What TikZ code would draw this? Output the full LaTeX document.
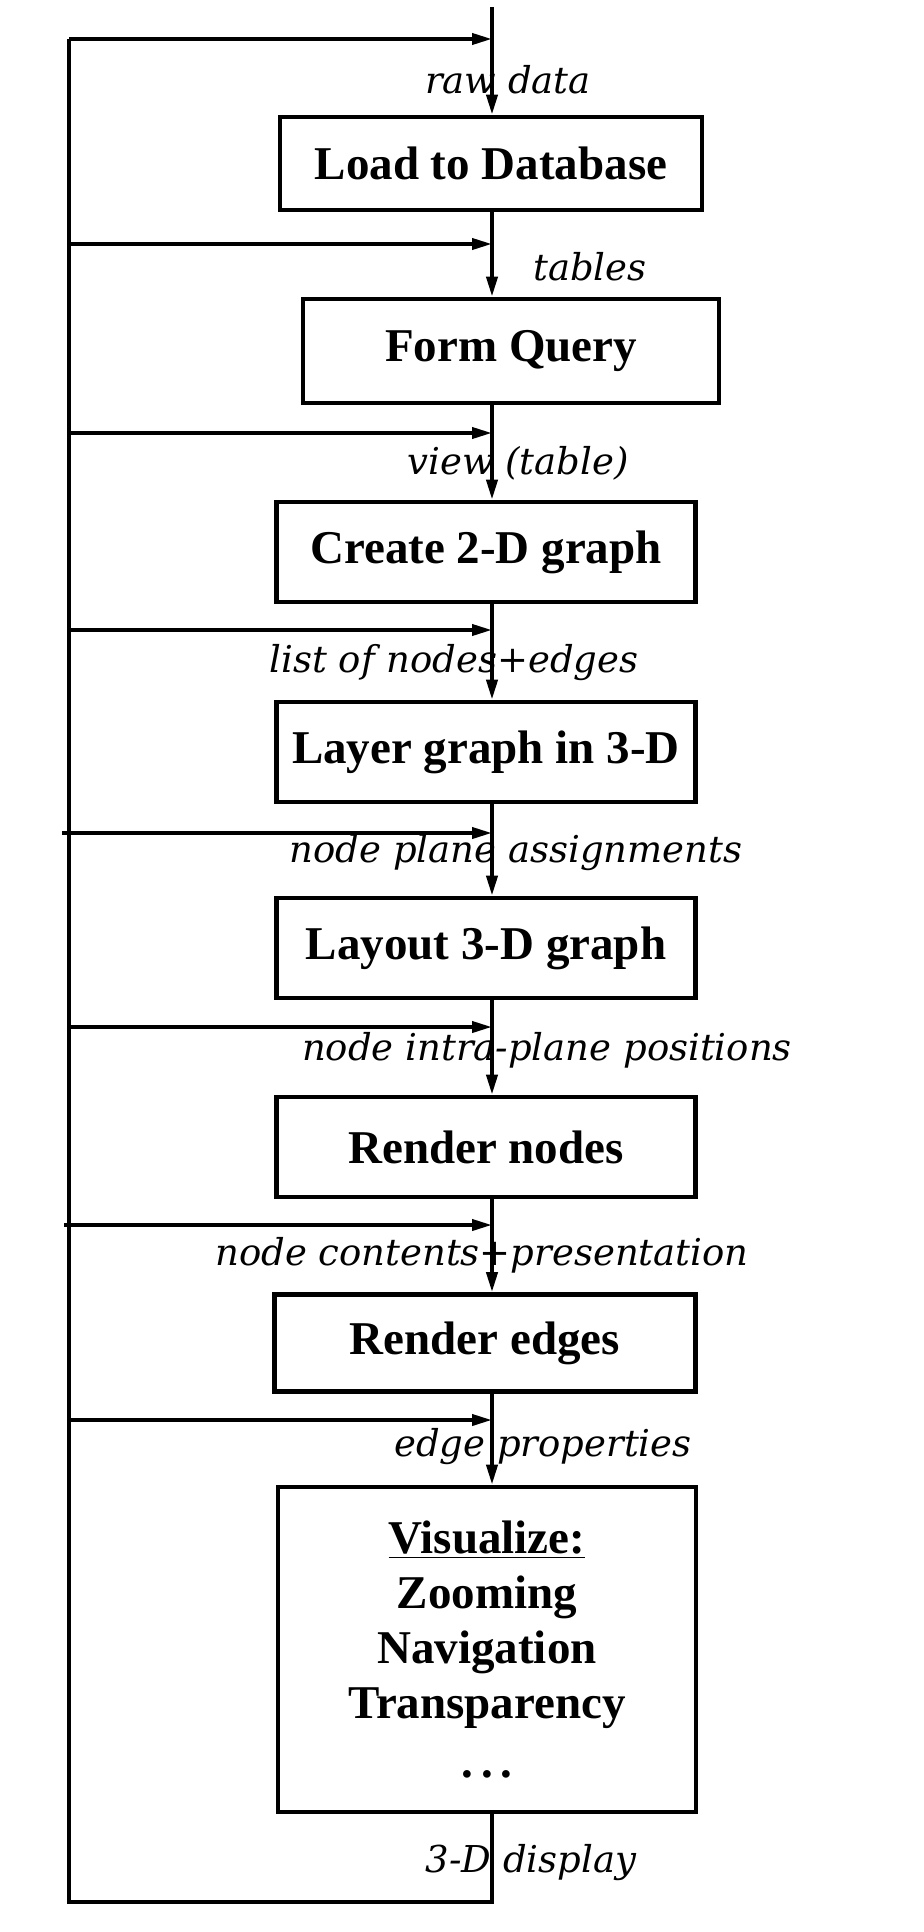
\documentclass[tikz,border=0pt]{standalone}
\usepackage{fontspec}
\setmainfont{Liberation Serif}
\newfontfamily\lblfont{DejaVu Serif}
\usetikzlibrary{arrows.meta}
\begin{document}
\begin{tikzpicture}[x=0.5pt,y=-0.5pt,
  box/.style={draw,line width=2.3pt,inner sep=0pt,align=center,
    font=\bfseries\fontsize{23.5}{27.5}\selectfont},
  line/.style={line width=1.9pt},
  flow/.style={line width=1.9pt,-{Triangle[length=10pt,width=5.5pt]}},
  lbl/.style={inner sep=0pt,font=\lblfont\itshape\fontsize{18.5}{21}\selectfont}]
\useasboundingbox (0,0) rectangle (924,1932);
% boxes
\node[box,minimum width=211pt,minimum height=46.5pt] (b1) at (491,163.5) {Load to Database};
\node[box,minimum width=208pt,minimum height=52pt] (b2) at (511,351) {Form Query};
\node[box,minimum width=209.5pt,minimum height=50pt] (b3) at (486,552) {Create 2-D graph};
\node[box,minimum width=209.5pt,minimum height=50pt] (b4) at (486,752) {Layer graph in 3-D};
\node[box,minimum width=209.5pt,minimum height=50pt] (b5) at (486,948) {Layout 3-D graph};
\node[box,minimum width=209.5pt,minimum height=50pt] (b6) at (486,1147) {Render nodes};
\node[box,minimum width=210.5pt,minimum height=48.5pt] (b7) at (485,1343) {Render edges};
\node[box,minimum width=209pt,minimum height=162.5pt] (b8) at (487,1649.5)
  {\underline{Visualize:}\\Zooming\\Navigation\\Transparency\\[2pt].\,.\,.};
% main line
\coordinate (top) at (492,7);
\draw[flow] (top) -- (top |- b1.north);
\draw[flow] (b1.south -| top) -- (b2.north -| top);
\draw[flow] (b2.south -| top) -- (b3.north -| top);
\draw[flow] (b3.south -| top) -- (b4.north -| top);
\draw[flow] (b4.south -| top) -- (b5.north -| top);
\draw[flow] (b5.south -| top) -- (b6.north -| top);
\draw[flow] (b6.south -| top) -- (b7.north -| top);
\draw[flow] (b7.south -| top) -- (b8.north -| top);
% feedback loop
\coordinate (f1) at (69,39);
\coordinate (f2) at (69,244);
\coordinate (f3) at (69,433);
\coordinate (f4) at (69,630);
\coordinate (f5) at (62,833);
\coordinate (f6) at (69,1027);
\coordinate (f7) at (64,1225);
\coordinate (f8) at (69,1420);
\coordinate (bl) at (69,1902);
\draw[line] (b8.south -| top) |- (bl) -- (f1);
\foreach \i in {1,...,8} \draw[flow] (f\i) -- (f\i -| top);
% labels
\node[lbl] (l1) at (508,80) {raw data};
\node[lbl] (l2) at (590,267) {tables};
\node[lbl] (l3) at (518,463) {view (table)};
\node[lbl] (l4) at (454,663) {list of nodes+edges};
\node[lbl] (l5) at (516,853) {node plane assignments};
\node[lbl] (l6) at (547,1050) {node intra-plane positions};
\node[lbl] (l7) at (482,1255) {node contents+presentation};
\node[lbl] (l8) at (543,1447) {edge properties};
\node[lbl] (l9) at (531,1863) {3-D display};
\end{tikzpicture}
\end{document}
